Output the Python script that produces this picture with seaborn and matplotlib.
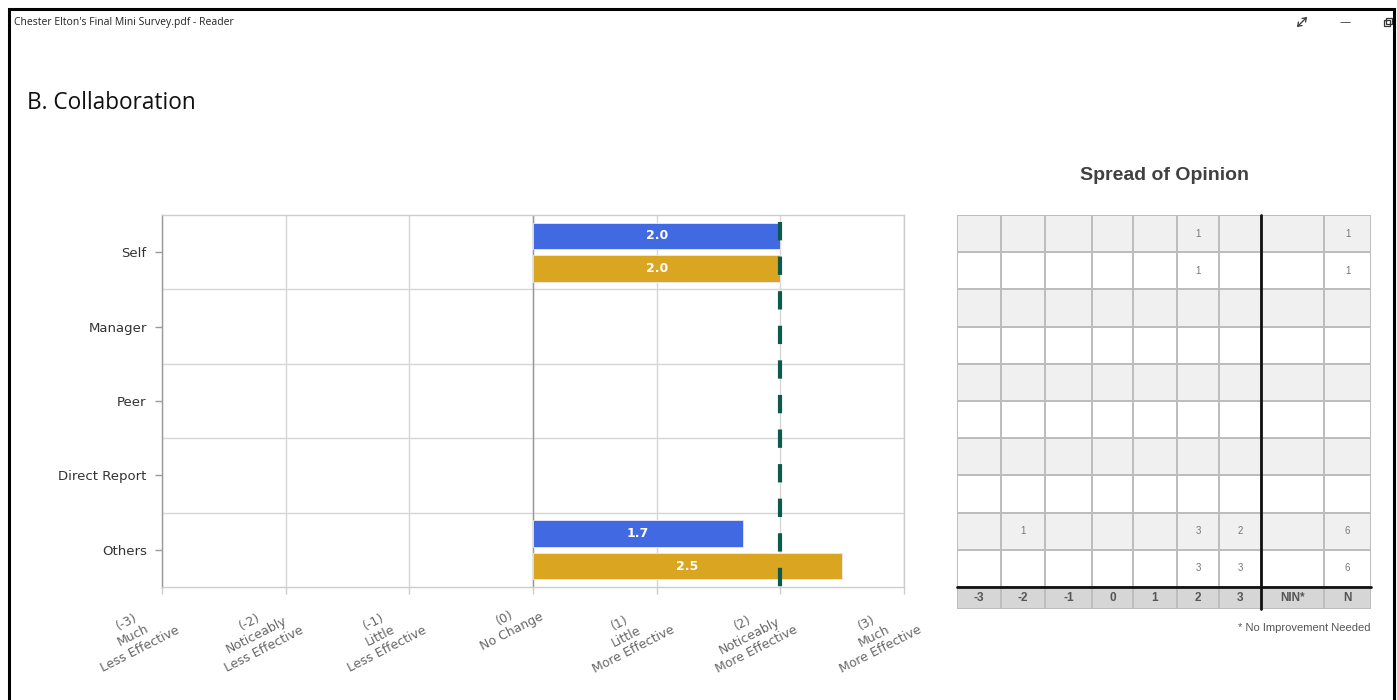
import numpy as np
import pandas as pd
import matplotlib
matplotlib.use("Agg")
import matplotlib.pyplot as plt
from matplotlib.colors import ListedColormap
from matplotlib.patches import Rectangle, FancyArrowPatch
import seaborn as sns

# ---------------- data ----------------
categories = ["Self", "Manager", "Peer", "Direct Report", "Others"]
series_names = ["Series A", "Series B"]
blue_scores = [2.0, np.nan, np.nan, np.nan, 1.7]
gold_scores = [2.0, np.nan, np.nan, np.nan, 2.5]
target_score = 2.0

x_ticks = [-3, -2, -1, 0, 1, 2, 3]
x_tick_labels = ["(-3)\nMuch\nLess Effective", "(-2)\nNoticeably\nLess Effective",
                 "(-1)\nLittle\nLess Effective", "(0)\nNo Change",
                 "(1)\nLittle\nMore Effective", "(2)\nNoticeably\nMore Effective",
                 "(3)\nMuch\nMore Effective"]

spread_columns = ["-3", "-2", "-1", "0", "1", "2", "3", "NIN*", "N"]
spread_self_blue = [None, None, None, None, None, 1, None, None, 1]
spread_self_gold = [None, None, None, None, None, 1, None, None, 1]
spread_manager_blue = [None] * 9
spread_manager_gold = [None] * 9
spread_peer_blue = [None] * 9
spread_peer_gold = [None] * 9
spread_direct_blue = [None] * 9
spread_direct_gold = [None] * 9
spread_others_blue = [None, 1, None, None, None, 3, 2, None, 6]
spread_others_gold = [None, None, None, None, None, 3, 3, None, 6]

window_title = "Chester Elton's Final Mini Survey.pdf - Reader"
page_title = "B. Collaboration"
table_title = "Spread of Opinion"
footnote = "* No Improvement Needed"

# ---------------- figure ----------------
sns.set_style("white")
plt.rcParams["font.family"] = ["DejaVu Sans"]
W, H = 1397, 700
fig = plt.figure(figsize=(W / 100, H / 100), dpi=100)


def px_axes(l, t, r, b):
    return fig.add_axes([l / W, 1 - b / H, (r - l) / W, (b - t) / H])


def fp(x, y):
    return (x / W, 1 - y / H)


# window chrome
fig.patches.append(Rectangle((9 / W, -0.05), (1394 - 9) / W, 1.05 - 9 / H,
                             transform=fig.transFigure, fill=False,
                             edgecolor="black", linewidth=2.2))
fig.text(14 / W, 1 - 22 / H, window_title, fontsize=7.5, color="#222222",
         family=["Open Sans"], ha="left", va="center")
# expand icon (symbol drawn as a shape)
fig.patches.append(FancyArrowPatch(fp(1297, 27), fp(1307, 17), transform=fig.transFigure,
                                   arrowstyle="<->,head_length=0.25,head_width=0.18",
                                   mutation_scale=10, color="#333333", linewidth=0.9,
                                   shrinkA=0, shrinkB=0))
fig.text(1345 / W, 1 - 22 / H, "\u2014", fontsize=8, color="#333333",
         ha="center", va="center")
fig.patches.append(Rectangle((1384 / W, 1 - 26 / H), 6 / W, 6 / H, transform=fig.transFigure,
                             fill=False, edgecolor="#333333", linewidth=0.9))
fig.patches.append(Rectangle((1386 / W, 1 - 24 / H), 6 / W, 6 / H, transform=fig.transFigure,
                             fill=False, edgecolor="#333333", linewidth=0.9))

fig.text(27 / W, 1 - 103 / H, page_title, fontsize=16.3, color="#111111",
         family=["Open Sans"], ha="left", va="center")

# ---------------- bar chart ----------------
ax = px_axes(162, 215, 904, 587)
df = pd.DataFrame({
    "category": categories * 2,
    "series": [series_names[0]] * len(categories) + [series_names[1]] * len(categories),
    "score": blue_scores + gold_scores,
}).dropna()

sns.barplot(data=df, y="category", x="score", hue="series", order=categories,
            hue_order=series_names, palette=["#4169E1", "#DAA520"], orient="h",
            width=0.88, gap=0.2, saturation=1, errorbar=None, legend=False,
            edgecolor="#efe6f5", linewidth=0.6, ax=ax, zorder=3)

for cont in ax.containers:
    ax.bar_label(cont, fmt="%.1f", label_type="center", color="white",
                 fontweight="bold", fontsize=9)

ax.set_xlim(-3, 3)
ax.set_ylim(len(categories) - 0.5, -0.5)
ax.set_xticks(x_ticks)
ax.set_xticklabels(x_tick_labels, rotation=27, ha="right", va="top",
                   rotation_mode="anchor", multialignment="center",
                   fontsize=9, color="#666666")
ax.set_yticks(range(len(categories)))
ax.set_yticklabels(categories, fontsize=9.5, color="#333333")
ax.set_yticks(np.arange(0.5, len(categories) - 0.5, 1.0), minor=True)
ax.set_xlabel("")
ax.set_ylabel("")
ax.tick_params(axis="x", which="major", length=5, width=1, color="#cccccc", pad=2, bottom=True)
ax.tick_params(axis="y", which="major", length=5, width=1, color="#999999", pad=6, left=True)
ax.tick_params(axis="y", which="minor", length=0)
ax.set_axisbelow(True)
ax.grid(True, axis="x", which="major", color="#d6d6d6", linewidth=1)
ax.grid(True, axis="y", which="minor", color="#d6d6d6", linewidth=1)
ax.grid(False, axis="y", which="major")
for side in ["top", "right", "bottom"]:
    ax.spines[side].set_color("#cccccc")
    ax.spines[side].set_linewidth(1)
ax.spines["left"].set_color("#999999")
ax.spines["left"].set_linewidth(1)
ax.axvline(0, color="#999999", linewidth=1, zorder=2)

ax.plot([target_score, target_score], [-0.40, len(categories) - 0.5],
        color="#0b5a4b", linewidth=3, linestyle=(0, (4.4, 3.9)), zorder=5,
        solid_capstyle="butt", dash_capstyle="butt")

# ---------------- spread table ----------------
spread_rows = [spread_self_blue, spread_self_gold, spread_manager_blue, spread_manager_gold,
               spread_peer_blue, spread_peer_gold, spread_direct_blue, spread_direct_gold,
               spread_others_blue, spread_others_gold]

tax = px_axes(957, 215, 1371, 609)
col_edges = np.array([0, 44, 88, 135, 176, 220, 262, 304, 367, 414], dtype=float)
header_h = 22 / 37.2
row_edges = np.concatenate([np.arange(0, len(spread_rows) + 1, dtype=float),
                            [len(spread_rows) + header_h]])
shade = np.array([[i % 2] * len(spread_columns) for i in range(len(spread_rows))]
                 + [[2] * len(spread_columns)], dtype=float)
cmap = ListedColormap(["#f0f0f0", "#ffffff", "#d6d6d6"])
tax.pcolormesh(col_edges, row_edges, shade, cmap=cmap, vmin=-0.5, vmax=2.5,
               edgecolors="#bdbdbd", linewidth=1.3)
tax.set_xlim(col_edges[0], col_edges[-1])
tax.set_ylim(row_edges[-1], 0)
tax.axis("off")

col_centers = (col_edges[:-1] + col_edges[1:]) / 2
for r, row in enumerate(spread_rows):
    for c, val in enumerate(row):
        if val is not None:
            tax.text(col_centers[c], r + 0.5, str(val), ha="center", va="center",
                     fontsize=7, color="#777777", family=["Liberation Sans"])
for c, lab in enumerate(spread_columns):
    tax.text(col_centers[c], len(spread_rows) + header_h / 2, lab, ha="center", va="center",
             fontsize=8.5, fontweight="bold", color="#555555", family=["Liberation Sans"])

tax.plot([col_edges[0], col_edges[-1]], [len(spread_rows), len(spread_rows)],
         color="#111111", linewidth=2, clip_on=False)
tax.plot([col_edges[7], col_edges[7]], [0, row_edges[-1]],
         color="#111111", linewidth=2, clip_on=False)

fig.text(1165 / W, 1 - 175 / H, table_title, ha="center", va="center", fontsize=14,
         fontweight="bold", color="#404040", family=["Liberation Sans"])
fig.text(1371 / W, 1 - 628 / H, footnote, ha="right", va="center", fontsize=8,
         color="#555555", family=["Liberation Sans"])

fig.savefig("out.png", dpi=100)
